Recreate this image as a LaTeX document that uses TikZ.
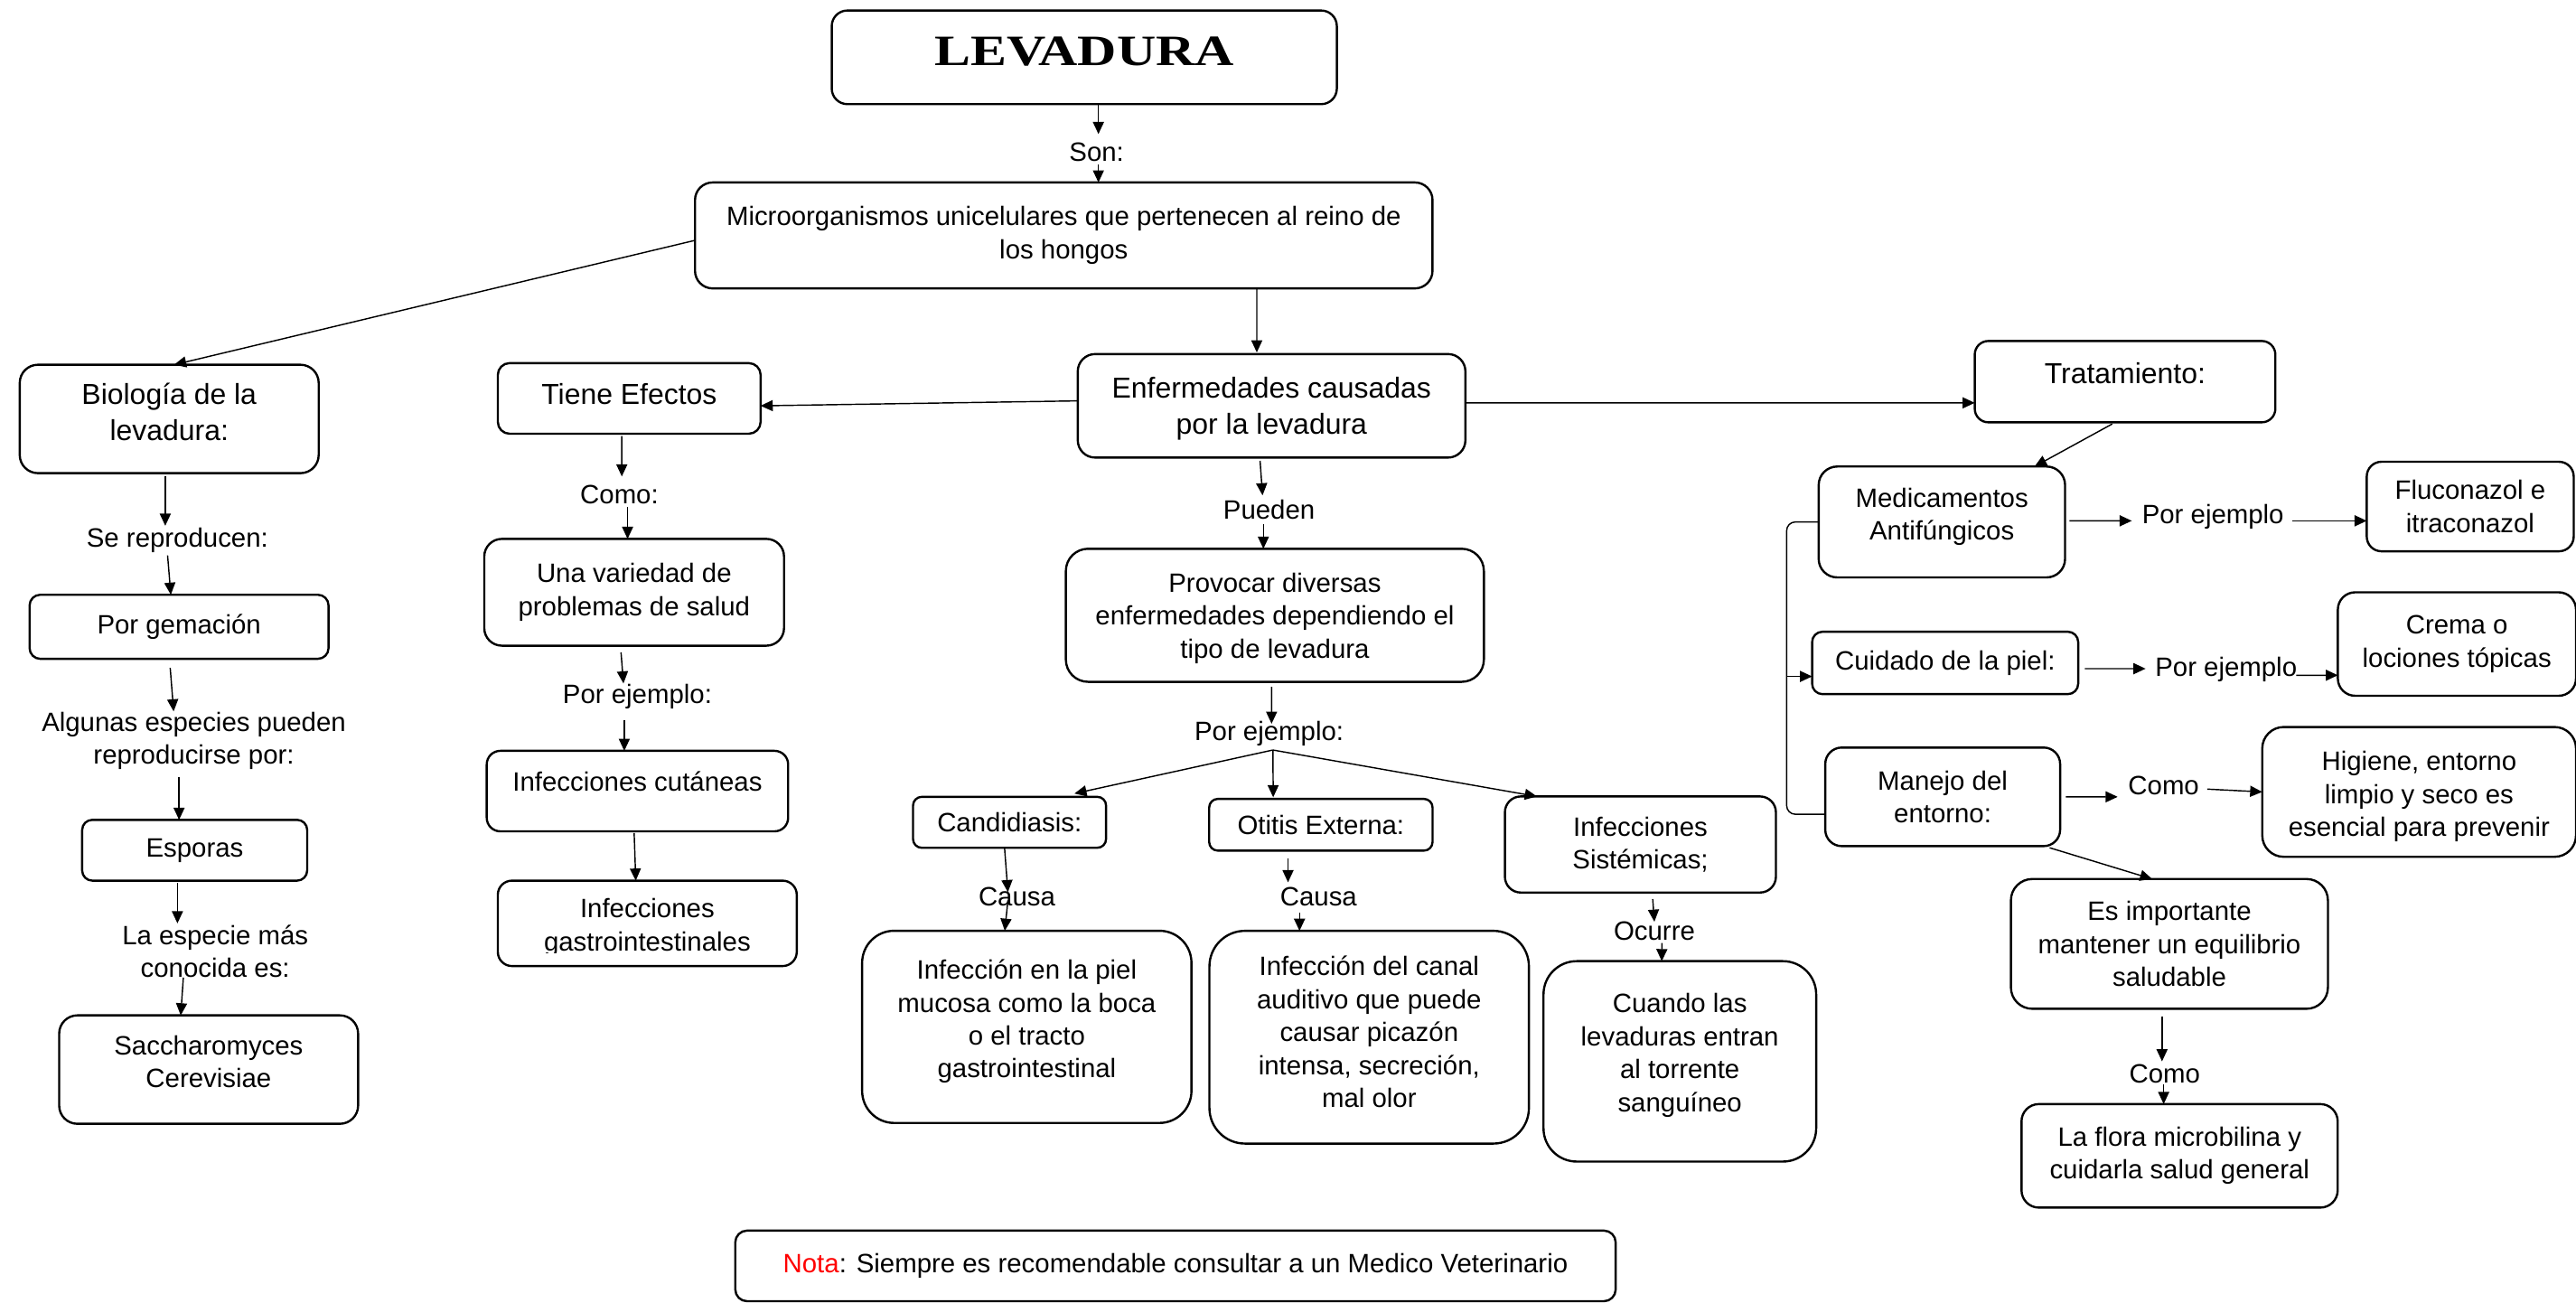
\documentclass[tikz,border=0pt]{standalone}
\usepackage{fontspec}
\setmainfont{Liberation Sans}
\newfontfamily\titulofuente{Liberation Serif Bold}[FakeStretch=1.25]
\usetikzlibrary{arrows.meta,calc}
\newcommand{\letranormal}{\fontsize{9.2}{11.4}\selectfont}
\newcommand{\letragrande}{\fontsize{10}{12.5}\selectfont}
% sube (o baja) el texto de una caja sin cambiar su tamano
\newcommand{\subir}[2]{\raisebox{#1}[\height][\depth]{\begin{tabular}{@{}c@{}}#2\end{tabular}}}
\tikzset{
	caja/.style={draw, line width=0.75pt, rounded corners=#1, align=center,
		inner sep=1pt, outer sep=0pt, font=\letranormal},
	caja/.default=6pt,
	etiq/.style={inner sep=0pt, align=center, font=\letranormal},
	flecha/.style={-{Triangle[length=4.2pt,width=3.8pt]}, line width=0.45pt},
	linea/.style={line width=0.45pt}
}

\begin{document}
\begin{tikzpicture}[x=0.02cm, y=-0.02cm]
	\useasboundingbox (0,0) rectangle (1568,793);
	
	\node[caja=5.4pt, minimum width=6.15cm, minimum height=1.14cm,
		font=\titulofuente\fontsize{15}{18}\selectfont, text depth=4.2pt] (titulo) at (660,34.9) {LEVADURA};
	\node[etiq] (son) at (667.5,92.6) {Son:};
	\node[caja=6.1pt, minimum width=8.98cm, minimum height=1.29cm] (micro) at (647.5,143.3) {
		Microorganismos unicelulares que pertenecen al reino de\\los hongos};
	
	% biologia
	\node[caja=6.3pt, minimum width=3.64cm, minimum height=1.32cm, font=\letragrande] (bio) at (103,255) {\subir{1.4pt}{Biología de la\\levadura:}};
	\node[etiq] (sere) at (108,329) {Se reproducen:};
	\node[caja=3.7pt, minimum width=3.64cm, minimum height=0.78cm] (gema) at (109,381.5) {Por gemación};
	\node[etiq] (algunas) at (118,451) {Algunas especies pueden\\reproducirse por:};
	\node[caja=3.5pt, minimum width=2.74cm, minimum height=0.74cm] (espo) at (118.5,517.5) {Esporas};
	\node[etiq] (laesp) at (131,579) {La especie más\\conocida es:};
	\node[caja=6.3pt, minimum width=3.64cm, minimum height=1.32cm] (sacch) at (127,651) {\subir{1.7pt}{Saccharomyces\\Cerevisiae}};
	
	% efectos
	\node[caja=4.1pt, minimum width=3.2cm, minimum height=0.86cm, font=\letragrande,
		text height=7.2pt, text depth=2.8pt] (tiene) at (383,242.5) {Tiene Efectos};
	\node[etiq] (como) at (377,301) {Como:};
	\node[caja=6.1pt, minimum width=3.65cm, minimum height=1.3cm] (varie) at (386,360.5) {Una variedad de\\problemas de salud};
	\node[etiq] (pej1) at (388,424) {Por ejemplo:};
	\node[caja=4.7pt, minimum width=3.67cm, minimum height=0.98cm,
		text height=6.6pt, text depth=6.8pt] (cut) at (388,481.5) {Infecciones cutáneas};
	\node[caja=4.9pt, minimum width=3.64cm, minimum height=1.04cm] (gastro) at (394,562) {};
	\begin{scope}
		\clip (gastro.north west) rectangle ($(gastro.south east)+(0,-8)$);
		\node[etiq] (gastrotxt) at (394,564.5) {Infecciones\\gastrointestinales};
	\end{scope}
	
	% enfermedades
	\node[caja=6pt, minimum width=4.72cm, minimum height=1.26cm, font=\letragrande] (enf) at (774,247) {\subir{-1pt}{Enfermedades causadas\\por la levadura}};
	\node[etiq] (pueden) at (772.5,310) {Pueden};
	\node[caja=7.7pt, minimum width=5.09cm, minimum height=1.62cm] (prov) at (776,374.5) {
		\subir{-1.1pt}{Provocar diversas\\enfermedades dependiendo el\\tipo de levadura}};
	\node[etiq] (pej2) at (772.5,446.5) {Por ejemplo:};
	\node[caja=3pt, minimum width=2.35cm, minimum height=0.62cm] (candi) at (614.5,500.5) {Candidiasis:};
	\node[caja=3pt, minimum width=2.72cm, minimum height=0.63cm] (otitis) at (804,502) {Otitis Externa:};
	\node[caja=5.5pt, minimum width=3.3cm, minimum height=1.17cm] (sist) at (998.5,514) {Infecciones\\Sistémicas;};
	\node[etiq] (causa1) at (619,546) {Causa};
	\node[etiq] (causa2) at (802.6,546) {Causa};
	\node[etiq] (ocurre) at (1007,566.6) {Ocurre};
	\node[caja=11.1pt, minimum width=4.01cm, minimum height=2.34cm] (infpiel) at (625,625) {
		\subir{1.7pt}{Infección en la piel\\mucosa como la boca\\o el tracto\\gastrointestinal}};
	\node[caja=12.3pt, minimum width=3.89cm, minimum height=2.59cm] (infcanal) at (833.4,631.3) {
		\subir{0.8pt}{Infección del canal\\auditivo que puede\\causar picazón\\intensa, secreción,\\mal olor}};
	\node[caja=11.5pt, minimum width=3.32cm, minimum height=2.44cm] (cuando) at (1022.5,646) {
		\subir{2pt}{Cuando las\\levaduras entran\\al torrente\\sanguíneo}};
	
	% tratamiento
	\node[caja=4.7pt, minimum width=3.66cm, minimum height=0.99cm, font=\letragrande,
		text height=7.2pt, text depth=5.7pt] (trat) at (1293.5,232.3) {Tratamiento:};
	\node[caja=6.4pt, minimum width=3cm, minimum height=1.35cm] (medic) at (1182,317.7) {\subir{1.7pt}{Medicamentos\\Antifúngicos}};
	\node[etiq] (pej3) at (1347,314.6) {Por ejemplo};
	\node[caja=5.1pt, minimum width=2.52cm, minimum height=1.09cm] (fluco) at (1503.6,308.3) {Fluconazol e\\itraconazol};
	\node[caja=3.6pt, minimum width=3.24cm, minimum height=0.76cm] (cuid) at (1184,403.5) {Cuidado de la piel:};
	\node[etiq] (pej4) at (1355,407.3) {Por ejemplo};
	\node[caja=6pt, minimum width=2.9cm, minimum height=1.26cm] (crema) at (1495.5,392) {Crema o\\lociones tópicas};
	\node[caja=5.7pt, minimum width=2.86cm, minimum height=1.2cm] (manejo) at (1182.5,485) {Manejo del\\entorno:};
	\node[etiq] (como2) at (1317,478.3) {Como};
	\node[caja=7.4pt, minimum width=3.82cm, minimum height=1.58cm] (higiene) at (1472.5,482) {
		\subir{-1.7pt}{Higiene, entorno\\limpio y seco es\\esencial para prevenir}};
	\node[caja=7.4pt, minimum width=3.86cm, minimum height=1.58cm] (esimp) at (1320.5,574.5) {
		Es importante\\mantener un equilibrio\\saludable};
	\node[etiq] (como3) at (1317.6,653.6) {Como};
	\node[caja=6pt, minimum width=3.85cm, minimum height=1.26cm] (flora) at (1326.7,703.5) {
		La flora microbilina y\\cuidarla salud general};
	
	\node[caja=4.1pt, minimum width=10.72cm, minimum height=0.86cm] (nota) at (715.5,770.5) {
		\textcolor{red}{Nota}: Siempre es recomendable consultar a un Medico Veterinario};
	
	% conectores
	\draw[flecha] ($(titulo.south)+(8.6,0)$) -- ($(son)+(1.1,-11)$);
	\draw[flecha] ($(son)+(1.1,7.4)$) -- ($(micro.north)+(21.1,0)$);
	\draw[flecha] ($(micro.west)+(0,3)$) -- ($(bio.north)+(3,0)$);
	\draw[flecha] ($(micro.south)+(117.5,0)$) -- ($(enf.north)+(-9,-1)$);
	
	\draw[flecha] ($(bio.south)+(-2.4,2)$) -- ($(sere)+(-7.4,-9)$);
	\draw[flecha] ($(sere)+(-6,9)$) -- ($(gema.north)+(-5,0)$);
	\draw[flecha] ($(gema.south)+(-5.4,5.5)$) -- ($(algunas)+(-12.3,-18)$);
	\draw[flecha] ($(algunas)+(-9,22)$) -- ($(espo.north)+(-9.5,0)$);
	\draw[flecha] ($(espo.south)+(-10.5,1.5)$) -- ($(laesp)+(-23,-17)$);
	\draw[flecha] ($(laesp)+(-19.4,16)$) -- ($(sacch.north)+(-17,0)$);
	
	\draw[flecha] ($(enf.west)+(0,-3)$) -- ($(tiene.east)+(0,4.5)$);
	\draw[flecha] ($(enf.east)+(0,-1.8)$) -- ($(trat.west)+(0,12.9)$);
	
	\draw[flecha] ($(tiene.south)+(-4.5,1.5)$) -- ($(como)+(1.5,-11)$);
	\draw[flecha] ($(como)+(5,7.5)$) -- ($(varie.north)+(-4,0)$);
	\draw[flecha] ($(varie.south)+(-8,4)$) -- ($(pej1)+(-8.5,-8)$);
	\draw[flecha] ($(pej1)+(-8,14.5)$) -- ($(cut.north)+(-8,0)$);
	\draw[flecha] ($(cut.south)+(-2,1)$) -- ($(gastro.north)+(-7,0)$);
	
	\draw[flecha] ($(enf.south)+(-7,2)$) -- ($(pueden)+(-4,-8.5)$);
	\draw[flecha] ($(pueden)+(-3.5,9)$) -- ($(prov.north)+(-7,0)$);
	\draw[flecha] ($(prov.south)+(-2,3)$) -- ($(pej2)+(1.5,-6)$);
	\coordinate (rama) at ($(pej2)+(2.3,10)$);
	\draw[flecha] (rama) -- ($(candi.north)+(39.5,-2)$);
	\draw[flecha] (rama) -- ($(otitis.north)+(-29,-1)$);
	\draw[flecha] (rama) -- ($(sist.north)+(-63,0)$);
	\draw[flecha] ($(candi.south)+(-3,0.5)$) -- ($(causa1)+(-5.5,-3)$);
	\draw[flecha] ($(causa1)+(-5.5,2)$) -- ($(infpiel.north)+(-13.4,0)$);
	\draw[flecha] ($(otitis.south)+(-20,4.5)$) -- ($(causa2)+(-18.6,-9)$);
	\draw[flecha] ($(causa2)+(-11.6,9.6)$) -- ($(infcanal.north)+(-42.4,0)$);
	\draw[flecha] ($(sist.south)+(7.5,4)$) -- ($(ocurre)+(0,-5.6)$);
	\draw[flecha] ($(ocurre)+(4.6,7.4)$) -- ($(cuando.north)+(-11,0)$);
	
	\draw[flecha] ($(trat.south)+(-7.8,1)$) -- ($(medic.north)+(56.4,0)$);
	\draw[flecha] ($(medic.east)+(2.6,-0.7)$) -- ($(pej3)+(-49.4,2.4)$);
	\draw[flecha] ($(pej3)+(48.5,2.4)$) -- ($(fluco.west)+(0,8.7)$);
	\draw[linea, rounded corners=3pt] (medic.west) -- ($(medic.west)+(-19.5,0)$) |- ($(manejo.west)+(0,10.6)$);
	\coordinate (llave) at ($(medic.west)+(-19.5,94)$);
	\draw[flecha] (llave) -- (llave -| cuid.west);
	\draw[flecha] ($(cuid.east)+(4,3.5)$) -- ($(pej4)+(-49,-0.3)$);
	\draw[flecha] ($(pej4)+(42.7,3.7)$) -- ($(crema.west)+(0,19)$);
	\draw[flecha] ($(manejo.east)+(3.5,0)$) -- ($(como2)+(-28,6.7)$);
	\draw[flecha] ($(como2)+(26.5,2)$) -- (higiene.west);
	\draw[flecha] ($(manejo.south east)+(-6.4,1)$) -- ($(esimp.north)+(-10.5,0)$);
	\draw[flecha] ($(esimp.south)+(-4.5,4.5)$) -- ($(como3)+(-1.6,-7.6)$);
	\draw[flecha] ($(como3)+(-0.6,6.4)$) -- ($(flora.north)+(-9.7,0)$);
\end{tikzpicture}
\end{document}
